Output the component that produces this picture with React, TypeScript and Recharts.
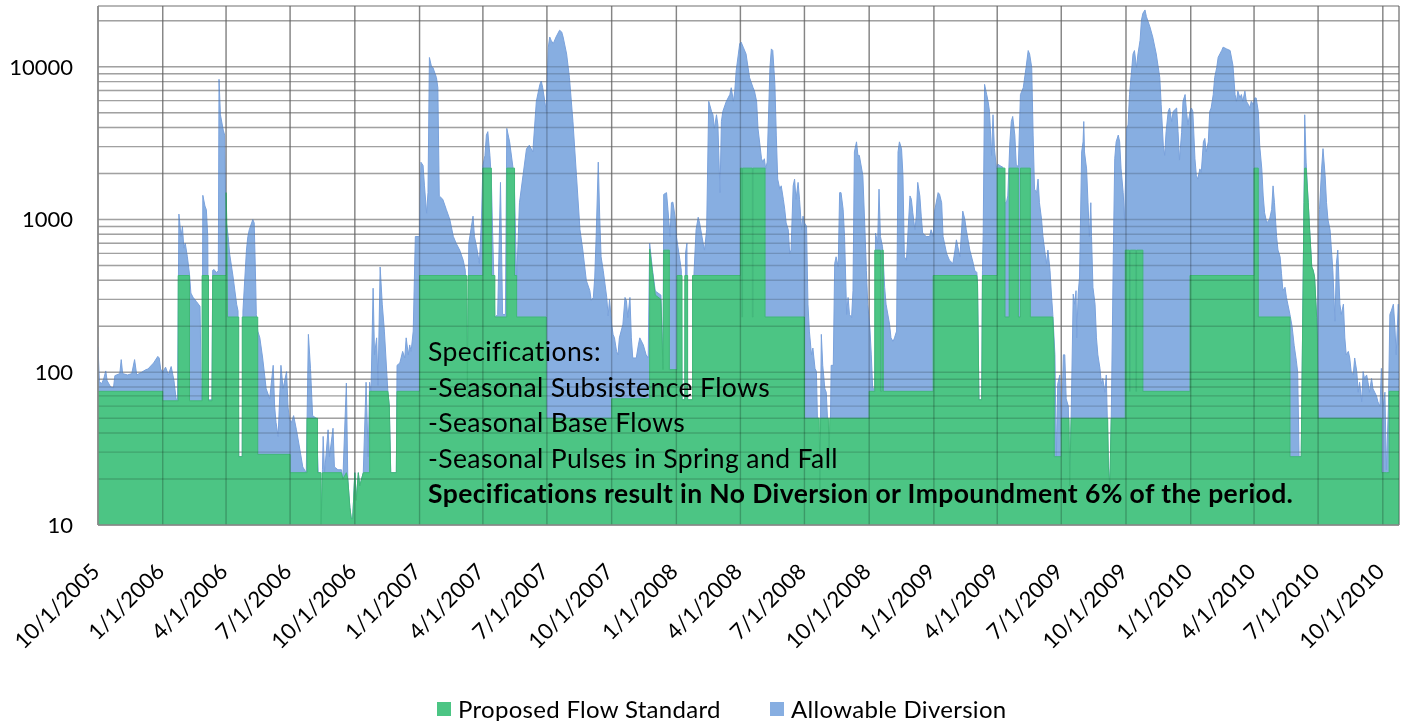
import { AreaChart, Area, XAxis, YAxis, CartesianGrid } from "recharts";

// x values are days counted from 10/1/2005
const quarterDays = [0, 92, 182, 273, 365, 457, 547, 638, 730, 822, 913, 1004, 1096, 1188, 1278, 1369, 1461, 1553, 1643, 1734, 1826];
const quarterLabels = [
  "10/1/2005", "1/1/2006", "4/1/2006", "7/1/2006", "10/1/2006", "1/1/2007", "4/1/2007",
  "7/1/2007", "10/1/2007", "1/1/2008", "4/1/2008", "7/1/2008", "10/1/2008", "1/1/2009",
  "4/1/2009", "7/1/2009", "10/1/2009", "1/1/2010", "4/1/2010", "7/1/2010", "10/1/2010",
];
const lastDay = 1849;

const yTicks = [
  10, 20, 30, 40, 50, 60, 70, 80, 90, 100, 200, 300, 400, 500, 600, 700, 800, 900,
  1000, 2000, 3000, 4000, 5000, 6000, 7000, 8000, 9000, 10000, 20000, 25000,
];
const yLabels = [10, 100, 1000, 10000];

const seriesNames = ["Proposed Flow Standard", "Allowable Diversion"];

// total flow (top of the blue area), cfs
const flow: [number, number][] = [
  [0, 147], [2, 87], [5, 84], [8, 90], [11, 102], [13, 88], [18, 80], [22, 79], [24, 95], [31, 98], [33, 121], [35, 98],
  [42, 96], [48, 98], [52, 121], [55, 96], [62, 100], [68, 104], [71, 105], [75, 110], [79, 115], [85, 127], [87, 124],
  [89, 105], [92, 100], [96, 108], [100, 96], [104, 109], [108, 88], [111, 67], [113, 66],
  [115, 1085], [118, 774], [120, 900], [122, 650], [124, 700], [127, 570], [130, 440], [132, 330], [135, 310], [140, 290],
  [145, 270], [147, 66], [148, 66], [149, 1440], [152, 1225], [154, 1160], [156, 774], [157, 66], [162, 66], [163, 465],
  [165, 470], [168, 450], [171, 460], [172, 8280], [174, 4850], [178, 3850], [180, 3570], [181, 1580], [182, 1000],
  [185, 774], [187, 600], [192, 420], [197, 279], [199, 252], [200, 28], [205, 28], [206, 252], [211, 631], [213, 774],
  [215, 857], [220, 1000], [222, 950], [224, 400], [225, 239], [227, 186], [230, 168], [234, 124], [239, 78], [244, 67],
  [249, 111], [251, 60], [253, 47], [256, 38], [260, 111], [263, 78], [268, 101], [270, 60], [272, 49], [275, 47],
  [278, 52], [282, 42], [287, 31], [291, 24], [296, 22], [299, 177], [302, 106], [305, 52], [310, 50],
  [313, 22], [315, 22], [317, 10], [319, 23], [320, 38], [322, 22], [327, 42], [329, 28], [334, 43], [336, 24], [341, 23],
  [346, 23], [348, 20], [353, 85], [355, 20], [358, 13], [360, 11], [362, 11], [365, 22], [367, 14.5], [370, 22], [372, 18],
  [377, 22], [381, 86], [384, 28], [386, 86], [388, 74], [391, 355], [393, 130], [396, 168], [398, 82], [401, 489],
  [404, 279], [407, 186], [412, 74], [414, 60], [416, 22], [424, 22], [425, 111], [429, 115], [433, 137], [436, 124],
  [438, 168], [441, 130], [443, 151], [445, 137], [448, 186], [451, 774], [455, 774], [457, 774],
  [459, 2370], [462, 2260], [464, 1662], [467, 1100], [469, 1500], [471, 11500], [474, 10000], [476, 9900], [481, 8490],
  [483, 7290], [485, 1427], [490, 1357], [495, 1164], [500, 1000], [505, 774], [509, 699], [514, 631], [519, 542],
  [522, 465], [525, 67], [527, 699], [533, 1052], [535, 774], [538, 664], [542, 515], [545, 1000], [547, 2260],
  [550, 2630], [552, 3570], [554, 3760], [557, 2630], [559, 1840], [561, 774], [564, 228], [568, 239], [572, 1750],
  [575, 239], [579, 239], [581, 3950], [585, 3225], [590, 2145], [592, 1500], [595, 399], [599, 1288], [604, 1940],
  [609, 2910], [613, 3065], [618, 2770], [623, 5940], [628, 7670], [630, 8070], [632, 7290], [635, 5940], [637, 5100],
  [640, 13440], [642, 15670], [644, 14890], [647, 14160], [651, 15670], [656, 17350], [659, 16900], [661, 15670],
  [666, 12130], [670, 8490], [675, 4380], [680, 1940], [685, 857], [689, 631], [694, 399], [699, 342], [701, 294],
  [704, 309], [706, 420], [708, 774], [711, 2375], [713, 1052], [715, 570], [718, 465], [723, 309], [725, 234],
  [727, 300], [730, 206], [732, 177], [734, 168], [737, 137], [739, 130], [741, 168], [746, 206], [749, 309], [751, 294],
  [753, 228], [756, 309], [758, 168], [760, 124], [765, 124], [768, 151], [770, 168], [775, 151], [779, 130], [782, 124],
  [784, 700], [788, 470], [792, 340], [800, 320], [803, 110], [804, 1460], [808, 1500], [810, 1164], [813, 774],
  [815, 1288], [817, 1300], [820, 1052], [822, 774], [827, 542], [829, 465], [830, 66], [834, 66], [835, 600], [837, 700],
  [838, 66], [845, 66], [847, 442], [850, 857], [853, 1035], [855, 950], [860, 699], [862, 631], [865, 857], [868, 5940],
  [872, 5100], [874, 4850], [876, 3950], [879, 4850], [881, 4160], [884, 1500], [886, 4380], [888, 5100], [893, 5940],
  [898, 6580], [900, 7290], [903, 5940], [905, 6930], [907, 9400], [912, 14160], [914, 14500], [917, 13440],
  [921, 12130], [926, 8490], [931, 7290], [933, 6930], [936, 5940], [938, 3950], [943, 2500], [945, 2375], [947, 2500],
  [949, 2145], [951, 2375], [955, 9900], [957, 13090], [959, 12770], [962, 7670], [964, 3570], [966, 1840], [969, 1580],
  [971, 1662], [974, 1357], [976, 1164], [978, 950], [981, 857], [983, 600], [985, 631], [988, 1662], [990, 1840],
  [992, 1357], [995, 1750], [997, 1357], [1000, 857], [1002, 1052], [1004, 950], [1007, 902], [1009, 279], [1011, 186],
  [1014, 130], [1016, 144], [1019, 106], [1021, 101], [1023, 38], [1026, 17], [1027, 60], [1028, 177], [1030, 111],
  [1033, 78], [1035, 74], [1037, 47], [1039, 23], [1041, 49], [1042, 111], [1045, 111], [1047, 515], [1049, 570],
  [1052, 489], [1054, 1500], [1056, 1500], [1059, 1164], [1061, 774], [1064, 239], [1066, 309], [1068, 239],
  [1071, 228], [1073, 342], [1075, 2770], [1078, 3225], [1080, 2630], [1082, 2630], [1087, 1940], [1090, 857],
  [1092, 465], [1094, 279], [1097, 195], [1099, 130], [1101, 78], [1104, 78], [1105, 815], [1108, 699], [1110, 1580],
  [1112, 774], [1115, 664], [1118, 360], [1120, 279], [1125, 206], [1127, 168], [1130, 159], [1132, 168], [1135, 186],
  [1137, 2770], [1139, 3225], [1142, 2910], [1144, 1940], [1146, 570], [1149, 542], [1154, 1427], [1156, 1357],
  [1158, 1107], [1161, 857], [1163, 1052], [1165, 1750], [1168, 1427], [1170, 1052], [1172, 815], [1177, 774],
  [1182, 774], [1184, 857], [1187, 774], [1189, 1135], [1194, 1500], [1196, 1463], [1199, 1288], [1201, 774],
  [1206, 600], [1210, 542], [1215, 515], [1218, 631], [1220, 736], [1222, 664], [1225, 570], [1229, 1135], [1232, 1000],
  [1234, 857], [1239, 631], [1244, 515], [1246, 465], [1249, 450], [1250, 379], [1252, 66], [1256, 66], [1257, 465],
  [1258, 774], [1260, 7670], [1263, 6580], [1265, 5940], [1267, 5100], [1270, 2630], [1272, 4850], [1274, 2910],
  [1277, 2145], [1279, 2300], [1282, 2250], [1286, 2200], [1289, 1288], [1291, 1288], [1293, 1427], [1296, 3225],
  [1298, 4380], [1300, 4730], [1303, 3570], [1305, 2300], [1308, 2200], [1311, 6580], [1315, 7290], [1319, 9900],
  [1322, 12770], [1324, 12130], [1327, 9900], [1329, 3570], [1331, 1580], [1334, 1500], [1336, 1840], [1338, 1288],
  [1341, 1000], [1343, 774], [1346, 600], [1348, 515], [1350, 631], [1353, 465], [1355, 325], [1357, 239], [1360, 130],
  [1362, 28], [1364, 84], [1367, 96], [1369, 38], [1372, 130], [1374, 130], [1376, 67], [1379, 60], [1381, 18],
  [1383, 49], [1386, 325], [1388, 279], [1390, 342], [1391, 168], [1393, 325], [1395, 420], [1398, 2770], [1400, 3225],
  [1401, 4380], [1402, 2770], [1405, 2145], [1407, 1288], [1409, 774], [1411, 1288], [1412, 774], [1414, 360],
  [1417, 279], [1419, 168], [1421, 130], [1424, 106], [1426, 84], [1428, 91], [1431, 74], [1433, 96], [1436, 24],
  [1438, 18], [1440, 47], [1443, 600], [1445, 2500], [1447, 3225], [1450, 3570], [1452, 3225], [1454, 2145],
  [1457, 1500], [1459, 1000], [1462, 3950], [1464, 4160], [1466, 6580], [1471, 12130], [1473, 12770], [1476, 9900],
  [1478, 12130], [1481, 14890], [1483, 20250], [1485, 22390], [1488, 23550], [1490, 21300], [1495, 18250],
  [1499, 15670], [1504, 12130], [1509, 8490], [1511, 5650], [1514, 3065], [1516, 2630], [1518, 3760], [1521, 5100],
  [1523, 5370], [1526, 4380], [1528, 5100], [1533, 5370], [1535, 3760], [1537, 2450], [1540, 3700], [1542, 5940],
  [1545, 6580], [1547, 5100], [1549, 4160], [1552, 5100], [1554, 5370], [1556, 5100], [1559, 2500], [1561, 1940],
  [1563, 1840], [1566, 2145], [1568, 2040], [1571, 3225], [1573, 3395], [1575, 2770], [1578, 3225], [1580, 5100],
  [1582, 5370], [1585, 6580], [1587, 8490], [1590, 9900], [1592, 11530], [1597, 12770], [1599, 13440], [1604, 13090],
  [1609, 12770], [1613, 10200], [1616, 6580], [1618, 5940], [1620, 6930], [1623, 6250], [1625, 6580], [1627, 5940],
  [1630, 6930], [1632, 5940], [1635, 5650], [1637, 5370], [1639, 5940], [1642, 5650], [1644, 6250], [1646, 6250],
  [1649, 5100], [1651, 3065], [1654, 2145], [1656, 1427], [1658, 1107], [1661, 950], [1665, 1000], [1668, 1164],
  [1670, 1660], [1672, 1288], [1675, 774], [1677, 631], [1680, 570], [1682, 442], [1684, 342], [1687, 360], [1689, 309],
  [1691, 279], [1694, 239], [1697, 200], [1700, 150], [1703, 120], [1705, 100], [1707, 28], [1710, 28], [1714, 1288],
  [1715, 4850], [1717, 2375], [1720, 1288], [1722, 857], [1725, 489], [1727, 465], [1729, 420], [1732, 228], [1733, 168],
  [1734, 465], [1736, 1164], [1739, 2145], [1741, 2910], [1744, 1940], [1746, 1288], [1748, 1000], [1751, 857],
  [1755, 465], [1758, 216], [1760, 515], [1762, 631], [1765, 279], [1767, 239], [1770, 279], [1772, 168], [1774, 130],
  [1777, 137], [1779, 124], [1781, 101], [1784, 96], [1786, 124], [1789, 101], [1791, 74], [1793, 86], [1796, 64],
  [1798, 101], [1800, 91], [1803, 96], [1805, 86], [1807, 74], [1810, 91], [1812, 78], [1817, 70], [1819, 64],
  [1822, 60], [1824, 106], [1825, 74], [1827, 60], [1829, 74], [1831, 23], [1834, 60], [1836, 239], [1838, 252],
  [1841, 279], [1843, 206], [1845, 130], [1848, 279], [1849, 150],
];

// proposed flow standard (top of the green area), cfs
const standard: [number, number][] = [
  [0, 75], [92, 75], [92, 65], [114, 65], [114, 430], [130, 430], [130, 65], [148, 65], [148, 430], [157, 430],
  [157, 65], [162, 65], [163, 430], [182, 430], [182, 1500], [183, 1000], [184, 230], [200, 230], [200, 28], [205, 28],
  [205, 230], [227, 230], [227, 29], [273, 29], [273, 22], [297, 22], [297, 50], [312, 50], [312, 22], [317, 22],
  [317, 10], [319, 22], [346, 22], [348, 20], [353, 22], [355, 20], [358, 13], [360, 11], [362, 11], [365, 22],
  [367, 14.5], [370, 22], [372, 18], [377, 22], [386, 22], [386, 75], [412, 75], [414, 60], [416, 22], [424, 22],
  [425, 75], [457, 75], [457, 430], [524, 430], [525, 67], [526, 430], [547, 430], [547, 2170], [559, 2170], [559, 430],
  [564, 430], [564, 230], [581, 230], [581, 2170], [592, 2170], [592, 430], [595, 430], [595, 230], [637, 230],
  [637, 50], [730, 50], [730, 67], [784, 67], [784, 640], [788, 450], [792, 320], [800, 300], [803, 104], [804, 630],
  [812, 630], [812, 104], [823, 104], [823, 430], [830, 430], [830, 66], [834, 66], [834, 430], [838, 430], [838, 66],
  [845, 66], [845, 430], [913, 430], [913, 2170], [915, 2170], [915, 230], [916, 230], [916, 2170], [930, 2170],
  [930, 230], [931, 230], [931, 2170], [948, 2170], [948, 230], [1004, 230], [1004, 50], [1025, 50], [1026, 17],
  [1027, 50], [1038, 50], [1039, 23], [1040, 50], [1096, 50], [1096, 75], [1104, 75], [1104, 630], [1112, 630],
  [1112, 75], [1114, 75], [1114, 630], [1116, 630], [1116, 75], [1187, 75], [1187, 430], [1249, 430], [1250, 379],
  [1252, 66], [1256, 66], [1257, 430], [1278, 430], [1278, 2170], [1289, 2170], [1289, 230], [1295, 230], [1295, 2170],
  [1308, 2170], [1308, 230], [1311, 230], [1311, 2170], [1325, 2170], [1325, 230], [1357, 230], [1359, 130], [1359, 28],
  [1369, 28], [1369, 50], [1380, 50], [1381, 18], [1383, 50], [1435, 50], [1436, 24], [1438, 18], [1440, 50],
  [1460, 50], [1460, 630], [1466, 630], [1466, 75], [1467, 75], [1467, 630], [1475, 630], [1475, 75], [1476, 75],
  [1476, 630], [1485, 630], [1485, 75], [1552, 75], [1552, 430], [1643, 430], [1643, 2170], [1649, 2170], [1649, 230],
  [1694, 230], [1694, 28], [1710, 28], [1714, 1288], [1715, 2170], [1717, 2170], [1720, 1288], [1722, 857], [1725, 489],
  [1727, 465], [1729, 420], [1732, 228], [1733, 168], [1734, 50], [1824, 50], [1824, 22], [1831, 22], [1835, 22],
  [1835, 75], [1849, 75],
];

const rows = [
  ...flow.map(([day, v]) => ({ day, flow: v } as { day: number; flow?: number; standard?: number })),
  ...standard.map(([day, v]) => ({ day, standard: v } as { day: number; flow?: number; standard?: number })),
].sort((a, b) => a.day - b.day);

const GREEN = "#4cc584";
const BLUE = "#87aee1";

const gridLine = (stroke: string, blend: boolean) => (p: any) => (
  <line
    key={p.key}
    x1={p.x1}
    y1={p.y1}
    x2={p.x2}
    y2={p.y2}
    stroke={stroke}
    strokeWidth={1.4}
    style={blend ? { mixBlendMode: "multiply" } : undefined}
  />
);

const DateTick = (props: any) => {
  const { x, y, payload } = props;
  const i = quarterDays.indexOf(payload.value);
  if (i < 0) return null;
  const tx = x + 3;
  const ty = y + 48;
  return (
    <text x={tx} y={ty} transform={`rotate(-45 ${tx} ${ty})`} textAnchor="end" fontSize={22} fill="#000">
      {quarterLabels[i]}
    </text>
  );
};

const notes = [
  "Specifications:",
  "-Seasonal Subsistence Flows",
  "-Seasonal Base Flows",
  "-Seasonal Pulses in Spring and Fall",
];
const conclusion = "Specifications result in No Diversion or Impoundment 6% of the period.";

const swatch = (color: string) => (
  <span style={{ width: 14, height: 14, background: color, display: "inline-block", marginRight: 7 }} />
);

export default function App() {
  return (
    <div
      style={{
        position: "absolute",
        left: 0,
        top: 0,
        width: 1407,
        height: 721,
        background: "#fff",
        fontFamily: "Lato, 'Open Sans', sans-serif",
      }}
    >
      <AreaChart width={1407} height={721} data={rows} margin={{ top: 6, right: 8, bottom: 0, left: 0 }}>
        <CartesianGrid horizontal={gridLine("#c2c2c2", false)} vertical={gridLine("#ababab", false)} />
        <XAxis
          dataKey="day"
          type="number"
          domain={[0, lastDay]}
          ticks={[...quarterDays, lastDay]}
          interval={0}
          height={196}
          tickSize={0}
          tickMargin={0}
          tickLine={false}
          axisLine={{ stroke: "#8c8c8c", strokeWidth: 1.5 }}
          tick={<DateTick />}
          allowDataOverflow
        />
        <YAxis
          scale="log"
          type="number"
          domain={[10, 25000]}
          ticks={yTicks}
          interval={0}
          width={98}
          tickSize={0}
          tickMargin={25}
          tickLine={false}
          axisLine={{ stroke: "#8c8c8c", strokeWidth: 1.5 }}
          tick={{ fontSize: 22, fill: "#000" }}
          tickFormatter={(v: number) => (yLabels.includes(v) ? String(v) : "")}
          allowDataOverflow
        />
        <Area
          dataKey="flow"
          name={seriesNames[1]}
          type="linear"
          connectNulls
          baseValue={10}
          fill={BLUE}
          fillOpacity={1}
          stroke="#7aa2dc"
          strokeWidth={1}
          dot={false}
          activeDot={false}
          isAnimationActive={false}
        />
        <Area
          dataKey="standard"
          name={seriesNames[0]}
          type="linear"
          connectNulls
          baseValue={10}
          fill={GREEN}
          fillOpacity={1}
          stroke="#41b877"
          strokeWidth={1}
          dot={false}
          activeDot={false}
          isAnimationActive={false}
        />
        <CartesianGrid
          zIndex={150}
          horizontal={gridLine("#d4d4d4", true)}
          vertical={gridLine("#c6c6c6", true)}
        />
      </AreaChart>

      <div
        style={{
          position: "absolute",
          left: 428,
          top: 334,
          fontSize: 26.5,
          letterSpacing: 0.4,
          lineHeight: "35.5px",
          color: "#000",
          whiteSpace: "nowrap",
        }}
      >
        {notes.map((t) => (
          <div key={t}>{t}</div>
        ))}
        <div style={{ fontWeight: 700 }}>{conclusion}</div>
      </div>

      <div style={{ position: "absolute", top: 694, left: 437, fontSize: 24, letterSpacing: 0.3, color: "#000", whiteSpace: "nowrap", display: "flex", alignItems: "center" }}>
        {swatch(GREEN)}
        <span>{seriesNames[0]}</span>
      </div>
      <div style={{ position: "absolute", top: 694, left: 770, fontSize: 24, letterSpacing: 0.3, color: "#000", whiteSpace: "nowrap", display: "flex", alignItems: "center" }}>
        {swatch(BLUE)}
        <span>{seriesNames[1]}</span>
      </div>
    </div>
  );
}
